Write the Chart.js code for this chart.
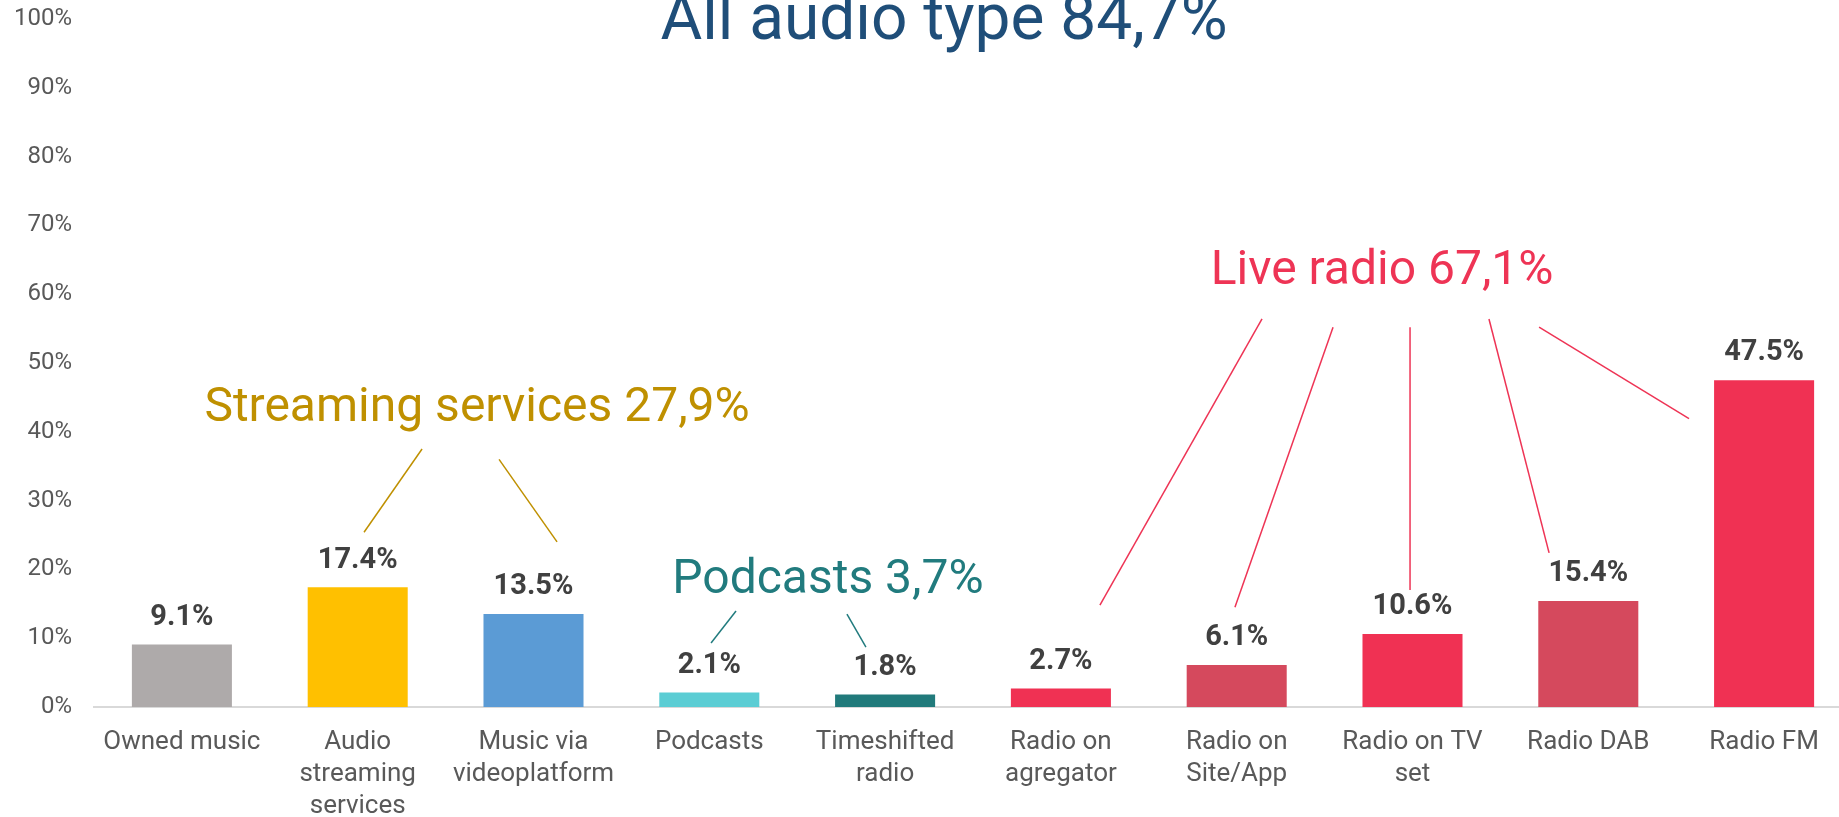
<!DOCTYPE html>
<html>
<head>
<meta charset="utf-8">
<title>Audio listening</title>
<script src="https://cdn.jsdelivr.net/npm/chart.js@4.4.1/dist/chart.umd.min.js"></script>
<style>
  html, body { margin: 0; padding: 0; background: #fff; overflow: hidden; }
  #wrap { width: 1860px; height: 817px; }
</style>
</head>
<body>
<div id="wrap"><canvas id="graph1" width="1860" height="817"></canvas></div>
<script>
"use strict"

// categories (multi-line tick labels) and values
const categories = [
    ['Owned music'],
    ['Audio', 'streaming', 'services'],
    ['Music via', 'videoplatform'],
    ['Podcasts'],
    ['Timeshifted', 'radio'],
    ['Radio on', 'agregator'],
    ['Radio on', 'Site/App'],
    ['Radio on TV', 'set'],
    ['Radio DAB'],
    ['Radio FM']
];
const shares = [9.1, 17.4, 13.5, 2.1, 1.8, 2.7, 6.1, 10.6, 15.4, 47.5];
const barColors = [
    '#AEAAAA', '#FFC000', '#5B9BD5', '#5BCDD4', '#217A7B',
    '#F03153', '#D5495D', '#F03153', '#D5495D', '#F03153'
];

// group headings
const groupTexts = ['All audio type 84,7%', 'Streaming services 27,9%', 'Podcasts 3,7%', 'Live radio 67,1%'];
const groupColors = ['#1F4E79', '#BF9000', '#217B7E', '#EE3455'];

// placement of headings and connector lines, in (category index, percent) units
const groupLayout = [
    { at: [4.335, 97.1], size: 64, lines: [] },
    { at: [1.679, 41.6], size: 48, lines: [
        [1.366, 37.5, 1.036, 25.4],
        [1.804, 36.0, 2.134, 24.0]
    ] },
    { at: [3.675, 16.6], size: 48, lines: [
        [3.152, 13.95, 3.010, 9.3],
        [3.783, 13.5, 3.891, 8.7]
    ] },
    { at: [6.827, 61.5], size: 48, lines: [
        [6.144, 56.4, 5.222, 14.8],
        [6.548, 55.2, 5.990, 14.5],
        [6.986, 55.2, 6.986, 17.0],
        [7.435, 56.4, 7.777, 22.4],
        [7.720, 55.2, 8.573, 41.9]
    ] }
];

const valueLabels = {
    id: 'valueLabels',
    afterDatasetsDraw(chart) {
        const ctx = chart.ctx;
        const meta = chart.getDatasetMeta(0);
        ctx.save();
        ctx.font = 'bold 29px Roboto';
        ctx.fillStyle = '#404040';
        ctx.textAlign = 'center';
        ctx.textBaseline = 'middle';
        meta.data.forEach((bar, i) => {
            ctx.fillText(shares[i].toFixed(1) + '%', bar.x, bar.y - 27);
        });
        ctx.restore();
    }
};

const groupNotes = {
    id: 'groupNotes',
    afterDraw(chart) {
        const ctx = chart.ctx;
        const xs = chart.scales.x;
        const ys = chart.scales.y;
        const px = (i) => xs.getPixelForValue(0) + i * (xs.getPixelForValue(1) - xs.getPixelForValue(0));
        const py = (v) => ys.getPixelForValue(v);
        ctx.save();
        groupLayout.forEach((g, k) => {
            ctx.fillStyle = groupColors[k];
            ctx.strokeStyle = groupColors[k];
            ctx.font = g.size + 'px Roboto';
            ctx.textAlign = 'center';
            ctx.textBaseline = 'alphabetic';
            ctx.fillText(groupTexts[k], px(g.at[0]), py(g.at[1]));
            ctx.lineWidth = 1.5;
            g.lines.forEach(l => {
                ctx.beginPath();
                ctx.moveTo(px(l[0]), py(l[1]));
                ctx.lineTo(px(l[2]), py(l[3]));
                ctx.stroke();
            });
        });
        ctx.restore();
    }
};

let config = {
    type: 'bar',
    data: {
        labels: categories,
        datasets: [
            {
                data: shares,
                backgroundColor: barColors,
                categoryPercentage: 1,
                barPercentage: 0.569
            }
        ]
    },
    options: {
        responsive: false,
        animation: false,
        layout: {
            padding: { top: 19, right: 8, left: 0, bottom: 0 }
        },
        plugins: {
            legend: { display: false },
            title: { display: false },
            tooltip: { enabled: false }
        },
        scales: {
            x: {
                grid: { display: false, drawTicks: false },
                border: { display: true, color: '#D9D9D9', width: 2 },
                ticks: {
                    autoSkip: false,
                    maxRotation: 0,
                    padding: 20,
                    color: '#595959',
                    font: { family: 'Roboto', size: 26, lineHeight: 1.23 }
                },
                afterFit(scale) { scale.height = 110; }
            },
            y: {
                min: 0,
                max: 100,
                grid: { display: false, drawTicks: false },
                border: { display: false },
                ticks: {
                    stepSize: 10,
                    padding: 22,
                    color: '#595959',
                    font: { family: 'Roboto', size: 24 },
                    callback: (v) => v + '%'
                },
                afterFit(scale) {
                    scale.width = 94;
                    scale.paddingTop = 0;
                    scale.paddingBottom = 0;
                }
            }
        }
    },
    plugins: [valueLabels, groupNotes]
};

const canvas = document.getElementById('graph1').getContext('2d');
const chart1 = new Chart(canvas, config);
</script>
</body>
</html>
